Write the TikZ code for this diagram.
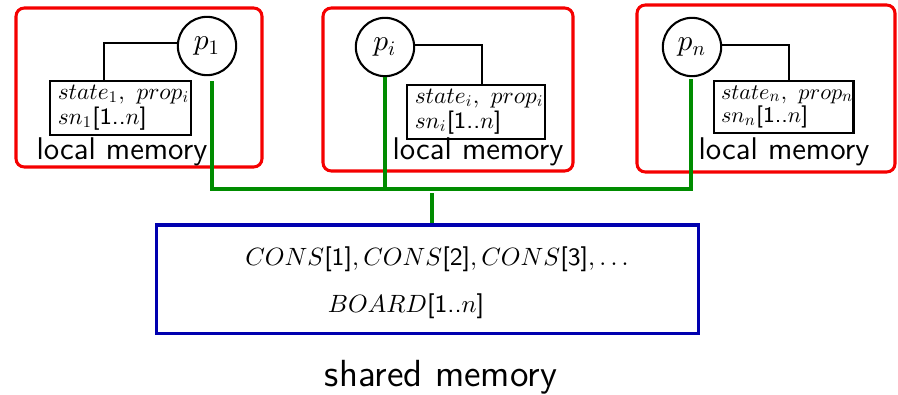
\documentclass[tikz,border=0pt]{standalone}
\usetikzlibrary{calc}
\renewcommand{\familydefault}{\sfdefault}
\DeclareFontShape{OML}{cmm}{m}{it}{<->cmmi10}{}
\DeclareFontShape{OT1}{cmr}{m}{n}{<->cmr10}{}
\definecolor{frred}{RGB}{245,0,0}
\definecolor{busgreen}{RGB}{0,140,0}
\definecolor{shblue}{RGB}{0,0,175}
\tikzset{
  frame/.style={draw=frred,line width=1.1pt,rounded corners=3pt},
  proc/.style={circle,draw,line width=0.75pt,minimum size=21pt,inner sep=0pt,font=\fontsize{10.6}{12}\selectfont},
  statebox/.style={draw,line width=0.75pt,align=left,inner xsep=2.8pt,inner ysep=1.6pt,anchor=north west,font=\fontsize{8.4}{6.7}\selectfont},
  lmem/.style={anchor=base,inner sep=0pt,font=\fontsize{11.3}{12}\selectfont},
  thin/.style={line width=0.4pt},
  bus/.style={draw=busgreen,line width=1.1pt},
  shbox/.style={draw=shblue,line width=1.1pt},
  shtext/.style={anchor=base,inner sep=0pt,font=\fontsize{9}{12}\selectfont},
}
\begin{document}
\begin{tikzpicture}[x=0.36pt,y=-0.36pt]
\useasboundingbox (0,0) rectangle (898,394);
% frames
\draw[frame] (16,8) rectangle (262,167);
\draw[frame] (323,8) rectangle (573,171);
\draw[frame] (637,5) rectangle (895,172);
% processes
\node[proc] (p1) at (207,46) {$p_1$};
\node[proc] (pi) at (385,47) {$p_i$};
\node[proc] (pn) at (692,47) {$p_n$};
% state boxes
\node[statebox,text width=45.3pt] (s1) at (49,80) {$state_1,\ prop_i$\\$sn_1$[1..$n$]};
\node[statebox,text width=43.9pt] (si) at (406,84) {$state_i,\ prop_i$\\$sn_i$[1..$n$]};
\node[statebox,text width=45.2pt,inner xsep=2.5pt,font=\fontsize{8}{6.7}\selectfont] (sn) at (713,80) {$state_n,\ prop_n$\\$sn_n$[1..$n$]};
% local memory labels
\node[lmem] (l1) at (122,159) {local memory};
\node[lmem] (li) at (478,159) {local memory};
\node[lmem] (ln) at (784,159) {local memory};
% thin links
\draw[thin] ($(p1.west)+(0,-3)$) -| ($(s1.north west)+(55,0)$);
\draw[thin] ($(pi.east)+(0,-2)$) -| ($(si.north west)+(76,0)$);
\draw[thin] ($(pn.east)+(0,-2)$) -| ($(sn.north west)+(76,0)$);
% shared memory
\node[shbox,minimum width=194.8pt,minimum height=38.9pt,inner sep=0pt] (sh) at (427.5,279) {};
\node[shtext] (cons) at (437,265) {$CONS$[1]$,CONS$[2]$,CONS$[3]$,\ldots$};
\node[shtext] (board) at (406,312) {$BOARD$[1..$n$]};
\node[anchor=base,inner sep=0pt,font=\fontsize{13.6}{15}\selectfont] (shl) at (441,386) {shared memory};
% bus
\coordinate (b1) at (212,189);
\coordinate (bi) at (385,189);
\coordinate (bn) at (691,189);
\coordinate (st) at (432,193);
\draw[bus] ($(p1.south)+(5,5)$) -- (b1) -- (bn) -- ($(pn.south)+(-1,2)$);
\draw[bus] (pi.south) -- (bi);
\draw[bus] (st) -- (st |- sh.north);
\end{tikzpicture}
\end{document}
